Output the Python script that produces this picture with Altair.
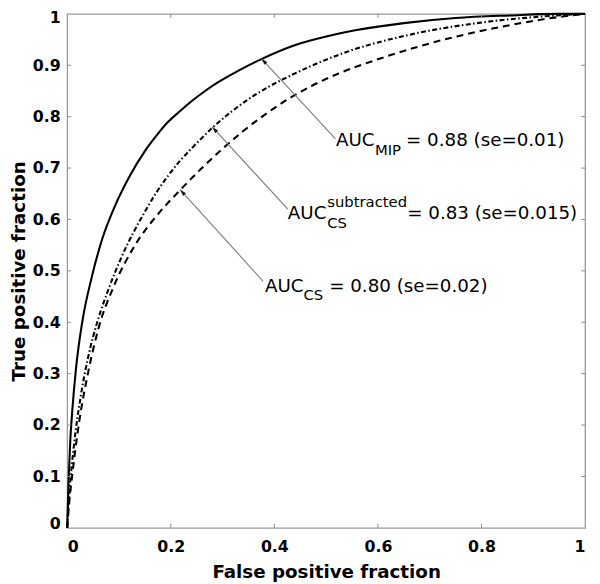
import math
import pandas as pd
import altair as alt

# ---- curve data ----
mip_fpr = [0, 0.003, 0.006, 0.010, 0.017, 0.029, 0.048, 0.067, 0.093, 0.120, 0.150, 0.170, 0.194, 0.217, 0.240, 0.265, 0.290, 0.330, 0.375, 0.442, 0.500, 0.556, 0.650, 0.750, 0.855, 0.950, 1.0]
mip_tpr = [0, 0.100, 0.170, 0.230, 0.310, 0.400, 0.490, 0.560, 0.628, 0.683, 0.733, 0.760, 0.789, 0.810, 0.830, 0.849, 0.866, 0.889, 0.912, 0.940, 0.956, 0.968, 0.982, 0.992, 0.997, 1.0, 1.0]

sub_fpr = [0, 0.004, 0.013, 0.026, 0.040, 0.058, 0.080, 0.105, 0.150, 0.172, 0.194, 0.217, 0.240, 0.280, 0.353, 0.448, 0.537, 0.664, 0.791, 0.918, 1.0]
sub_tpr = [0, 0.065, 0.160, 0.255, 0.330, 0.400, 0.465, 0.527, 0.615, 0.652, 0.684, 0.713, 0.738, 0.778, 0.836, 0.888, 0.925, 0.960, 0.982, 0.995, 1.0]

cs_fpr = [0, 0.004, 0.010, 0.023, 0.042, 0.061, 0.090, 0.131, 0.175, 0.218, 0.258, 0.340, 0.436, 0.524, 0.601, 0.728, 0.855, 0.950, 1.0]
cs_tpr = [0, 0.050, 0.105, 0.205, 0.310, 0.390, 0.470, 0.550, 0.610, 0.657, 0.698, 0.772, 0.840, 0.884, 0.912, 0.950, 0.978, 0.994, 1.0]

x_ticks = [0, 0.2, 0.4, 0.6, 0.8, 1]
y_ticks = [0, 0.1, 0.2, 0.3, 0.4, 0.5, 0.6, 0.7, 0.8, 0.9, 1]
inner_x_ticks = [0.2, 0.4, 0.6, 0.8]
inner_y_ticks = [0.1, 0.2, 0.3, 0.4, 0.5, 0.6, 0.7, 0.8, 0.9]

# annotation anchors (text start, baseline) and arrows
lab_x = [0.519, 0.426, 0.382]
lab_y = [0.742, 0.600, 0.459]
arr_x0 = [0.518, 0.426, 0.378]
arr_y0 = [0.757, 0.620, 0.480]
arr_x1 = [0.375, 0.280, 0.218]
arr_y1 = [0.913, 0.780, 0.658]

W, H = 525, 521
FONT = "DejaVu Sans"

xs = alt.Scale(domain=[0, 1], nice=False, zero=False)
ys = alt.Scale(domain=[0, 1], nice=False, zero=False)

xaxis = alt.Axis(values=x_ticks, format="~g", ticks=False, tickSize=0, domain=False, grid=False,
                 labelFont=FONT, labelFontWeight="bold", labelFontSize=16, labelColor="black",
                 labelPadding=11, title="False positive fraction", titleFont=FONT,
                 titleFontSize=18.5, titleFontWeight="bold", titleColor="black", titlePadding=8)
yaxis = alt.Axis(values=y_ticks, format="~g", ticks=False, tickSize=0, domain=False, grid=False,
                 labelFont=FONT, labelFontWeight="bold", labelFontSize=16, labelColor="black",
                 labelPadding=7, labelFlush=True, labelFlushOffset=4,
                 title="True positive fraction", titleFont=FONT,
                 titleFontSize=18.5, titleFontWeight="bold", titleColor="black", titlePadding=4)


def X(field):
    return alt.X(field, type="quantitative", scale=xs, axis=xaxis)


def Y(field):
    return alt.Y(field, type="quantitative", scale=ys, axis=yaxis)


def curve(fpr, tpr, dash):
    df = pd.DataFrame({"fpr": fpr, "tpr": tpr, "i": range(len(fpr))})
    kw = dict(color="black", strokeWidth=2.1, interpolate="monotone")
    if dash:
        kw["strokeDash"] = dash
    return alt.Chart(df).mark_line(**kw).encode(x=X("fpr"), y=Y("tpr"), order="i:Q")


layers = [
    curve(mip_fpr, mip_tpr, None),
    curve(sub_fpr, sub_tpr, [5, 2.5, 1.5, 2.5]),
    curve(cs_fpr, cs_tpr, [7, 5]),
]

# inward ticks on all four sides
TL = 4
tick_color = "#8c8c8c"
bt = pd.DataFrame({"v": inner_x_ticks, "a": 0.0, "b": TL / H})
tt = pd.DataFrame({"v": inner_x_ticks, "a": 1.0, "b": 1 - TL / H})
lt = pd.DataFrame({"v": inner_y_ticks, "a": 0.0, "b": TL / W})
rt = pd.DataFrame({"v": inner_y_ticks, "a": 1.0, "b": 1 - TL / W})
for d in (bt, tt):
    layers.append(alt.Chart(d).mark_rule(color=tick_color, strokeWidth=1).encode(
        x=X("v"), y=Y("a"), y2="b:Q"))
for d in (lt, rt):
    layers.append(alt.Chart(d).mark_rule(color=tick_color, strokeWidth=1).encode(
        y=Y("v"), x=X("a"), x2="b:Q"))

# arrows
ang, cx, cy = [], [], []
back = 4.0
for x0, y0, x1, y1 in zip(arr_x0, arr_y0, arr_x1, arr_y1):
    dxp = (x1 - x0) * W
    dyp = -(y1 - y0) * H
    L = math.hypot(dxp, dyp)
    ux, uy = dxp / L, dyp / L
    ang.append(math.degrees(math.atan2(dxp, -dyp)) % 360)
    cx.append(x1 - ux * back / W)
    cy.append(y1 + uy * back / H)
arr = pd.DataFrame({"x0": arr_x0, "y0": arr_y0, "x1": arr_x1, "y1": arr_y1,
                    "cx": cx, "cy": cy, "ang": ang})
layers.append(alt.Chart(arr).mark_rule(color="#7a7a7a", strokeWidth=1.1).encode(
    x=X("x0"), y=Y("y0"), x2="x1:Q", y2="y1:Q"))
layers.append(alt.Chart(arr).mark_point(
    shape="M0,-1L0.5,0.7L-0.5,0.7Z", filled=True, opacity=1, color="#1a1a1a", size=64, strokeWidth=0
).encode(x=X("cx"), y=Y("cy"), angle=alt.Angle("ang:Q", scale=None)))

# labels with sub/superscripts
pieces = [
    (0, "AUC", 0, 0, 18.5), (0, "MIP", 39.5, 9, 15), (0, "= 0.88 (se=0.01)", 71, 0, 18.5),
    (1, "AUC", 0, 0, 18.5), (1, "subtracted", 40, -13, 15), (1, "CS", 40, 9, 15),
    (1, "= 0.83 (se=0.015)", 121, 0, 18.5),
    (2, "AUC", 0, 0, 18.5), (2, "CS", 39, 8, 15), (2, "= 0.80 (se=0.02)", 65, 0, 18.5),
]
for k, txt, dx, dy, fs in pieces:
    d = pd.DataFrame({"x": [lab_x[k]], "y": [lab_y[k]], "t": [txt]})
    layers.append(alt.Chart(d).mark_text(
        align="left", baseline="alphabetic", dx=dx, dy=dy, font=FONT, fontSize=fs, color="black"
    ).encode(x=X("x"), y=Y("y"), text="t:N"))

chart = alt.layer(*layers).properties(
    width=W, height=H, autosize="none",
    padding={"left": 60, "top": 2, "right": 7, "bottom": 54},
    background="white",
).configure_view(stroke="#999999", strokeWidth=1.3)

chart.save("out.html", embed_options={"renderer": "svg", "actions": False})
